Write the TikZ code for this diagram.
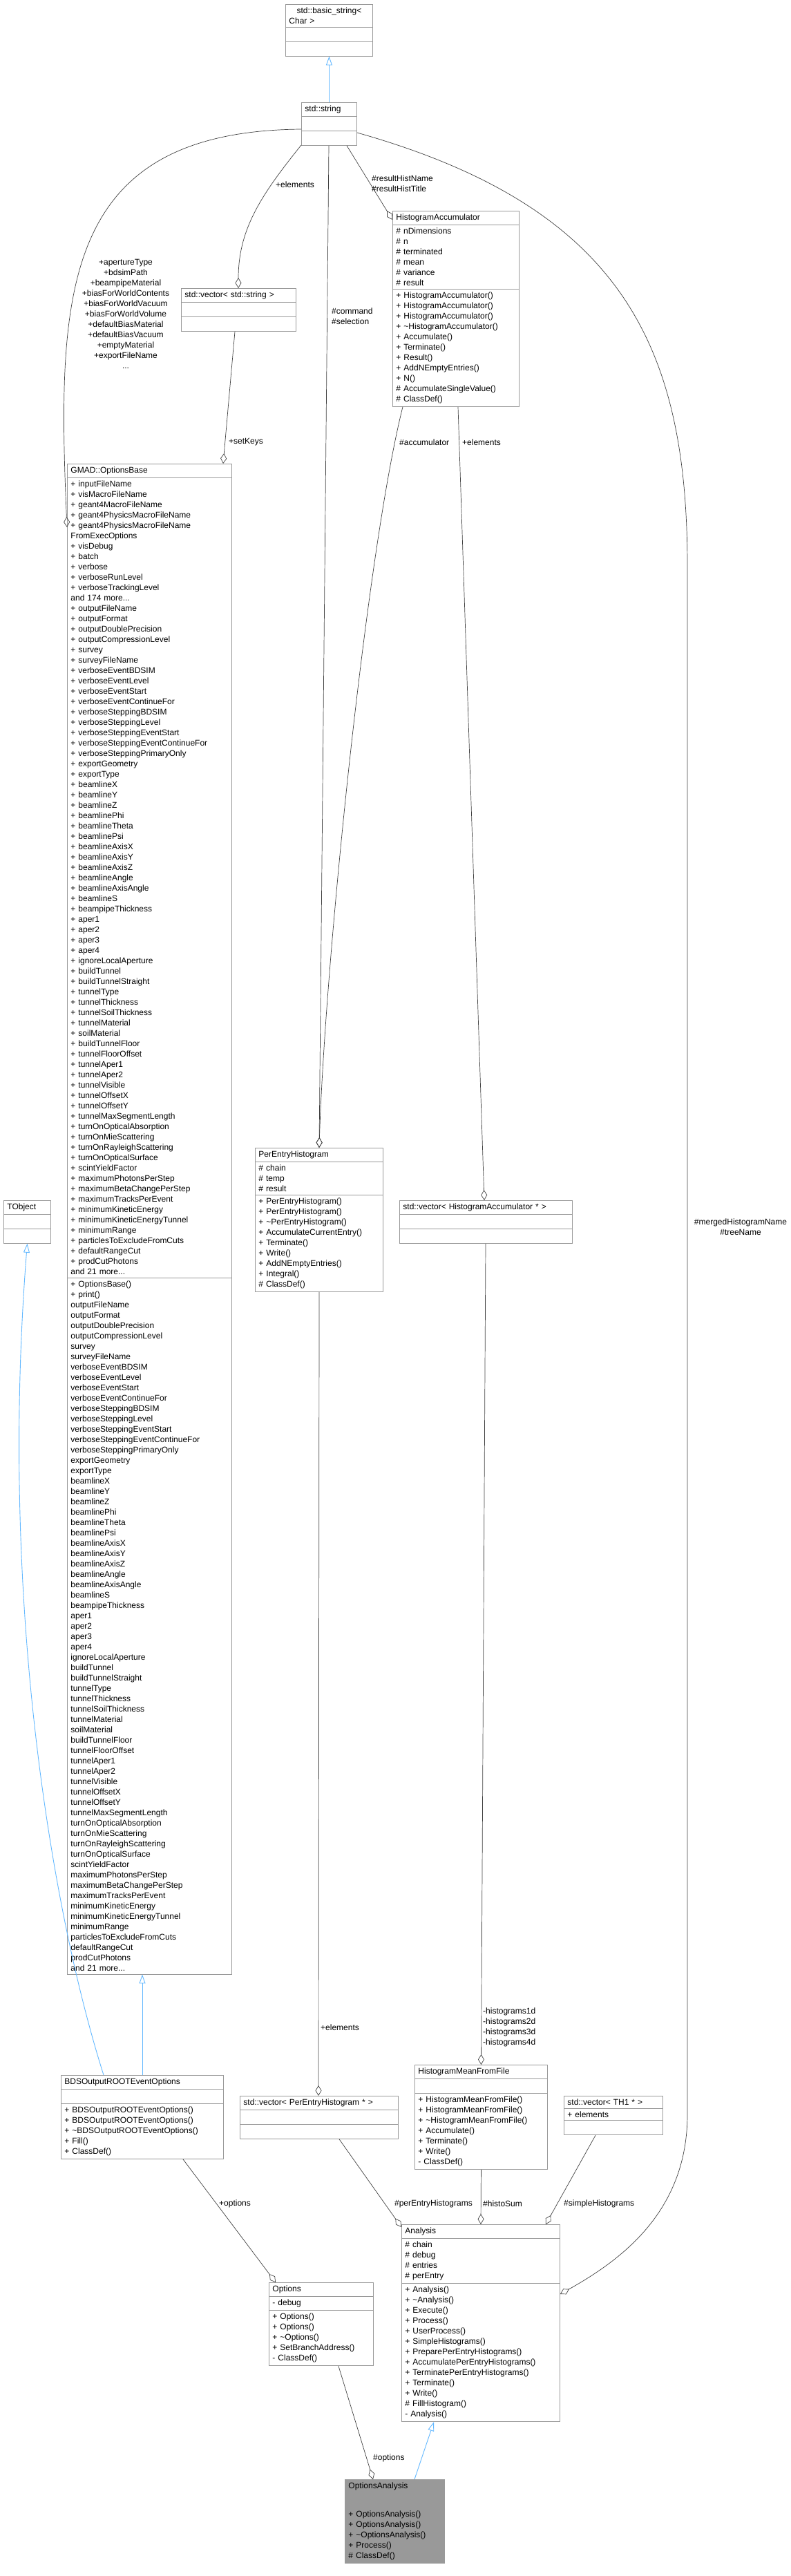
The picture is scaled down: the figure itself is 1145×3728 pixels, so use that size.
\documentclass[tikz,border=0pt]{standalone}
\usepackage{fontspec}
\setmainfont{Liberation Sans}
\usetikzlibrary{shapes.multipart,arrows.meta}
\definecolor{boxline}{HTML}{999999}
\definecolor{conn}{HTML}{404040}
\definecolor{inhblue}{HTML}{63B8FF}
\definecolor{selfill}{HTML}{999999}
\newcommand\tl{\textasciitilde}
\newcommand\emptypart{\rule{0pt}{12pt}}
\begin{document}
\begin{tikzpicture}[x=1pt,y=-1pt,
  cls/.style={rectangle split, rectangle split parts=3, draw=boxline, line width=0.9pt,
    anchor=north west, inner xsep=5pt, inner ysep=4pt, align=left,
    font=\fontsize{12}{15}\selectfont, text width=#1, fill=white},
  lbl/.style={font=\fontsize{12}{15}\selectfont, inner sep=0pt, align=center},
  lbll/.style={font=\fontsize{12}{15}\selectfont, inner sep=0pt, align=left},
  agg/.style={draw=conn, line width=0.7pt, -{Diamond[open,length=15pt,width=9pt]}},
  inh/.style={draw=inhblue, line width=0.9pt, -{Triangle[open,length=13pt,width=9pt]}}]
\useasboundingbox (0,0) rectangle (1145,3728);

\node[cls=116pt] (bstr) at (413,6) {\centering std::basic\_string\textless\\ Char \textgreater\nodepart{two}\emptypart\nodepart{three}\emptypart};
\node[cls=70pt] (str) at (436,148) {\centering std::string\nodepart{two}\emptypart\nodepart{three}\emptypart};
\node[cls=156pt] (vstr) at (262,417) {\centering std::vector\textless{} std::string \textgreater\nodepart{two}\emptypart\nodepart{three}\emptypart};
\node[cls=173pt] (hacc) at (568,305) {\centering HistogramAccumulator\nodepart{two}
\# nDimensions\\\# n\\\# terminated\\\# mean\\\# variance\\\# result\nodepart{three}
+ HistogramAccumulator()\\+ HistogramAccumulator()\\+ HistogramAccumulator()\\+ \tl HistogramAccumulator()\\+ Accumulate()\\+ Terminate()\\+ Result()\\+ AddNEmptyEntries()\\+ N()\\\# AccumulateSingleValue()\\\# ClassDef()};

\node[cls=228pt] (gmad) at (97,671) {\centering GMAD::OptionsBase\nodepart{two}
+ inputFileName\\+ visMacroFileName\\+ geant4MacroFileName\\+ geant4PhysicsMacroFileName\\+ geant4PhysicsMacroFileName\\FromExecOptions\\+ visDebug\\+ batch\\+ verbose\\+ verboseRunLevel\\+ verboseTrackingLevel\\and 174 more...\\+ outputFileName\\+ outputFormat\\+ outputDoublePrecision\\+ outputCompressionLevel\\+ survey\\+ surveyFileName\\+ verboseEventBDSIM\\+ verboseEventLevel\\+ verboseEventStart\\+ verboseEventContinueFor\\+ verboseSteppingBDSIM\\+ verboseSteppingLevel\\+ verboseSteppingEventStart\\+ verboseSteppingEventContinueFor\\+ verboseSteppingPrimaryOnly\\+ exportGeometry\\+ exportType\\+ beamlineX\\+ beamlineY\\+ beamlineZ\\+ beamlinePhi\\+ beamlineTheta\\+ beamlinePsi\\+ beamlineAxisX\\+ beamlineAxisY\\+ beamlineAxisZ\\+ beamlineAngle\\+ beamlineAxisAngle\\+ beamlineS\\+ beampipeThickness\\+ aper1\\+ aper2\\+ aper3\\+ aper4\\+ ignoreLocalAperture\\+ buildTunnel\\+ buildTunnelStraight\\+ tunnelType\\+ tunnelThickness\\+ tunnelSoilThickness\\+ tunnelMaterial\\+ soilMaterial\\+ buildTunnelFloor\\+ tunnelFloorOffset\\+ tunnelAper1\\+ tunnelAper2\\+ tunnelVisible\\+ tunnelOffsetX\\+ tunnelOffsetY\\+ tunnelMaxSegmentLength\\+ turnOnOpticalAbsorption\\+ turnOnMieScattering\\+ turnOnRayleighScattering\\+ turnOnOpticalSurface\\+ scintYieldFactor\\+ maximumPhotonsPerStep\\+ maximumBetaChangePerStep\\+ maximumTracksPerEvent\\+ minimumKineticEnergy\\+ minimumKineticEnergyTunnel\\+ minimumRange\\+ particlesToExcludeFromCuts\\+ defaultRangeCut\\+ prodCutPhotons\\and 21 more...\nodepart{three}
+ OptionsBase()\\+ print()\\* outputFileName\\* outputFormat\\* outputDoublePrecision\\* outputCompressionLevel\\* survey\\* surveyFileName\\* verboseEventBDSIM\\* verboseEventLevel\\* verboseEventStart\\* verboseEventContinueFor\\* verboseSteppingBDSIM\\* verboseSteppingLevel\\* verboseSteppingEventStart\\* verboseSteppingEventContinueFor\\* verboseSteppingPrimaryOnly\\* exportGeometry\\* exportType\\* beamlineX\\* beamlineY\\* beamlineZ\\* beamlinePhi\\* beamlineTheta\\* beamlinePsi\\* beamlineAxisX\\* beamlineAxisY\\* beamlineAxisZ\\* beamlineAngle\\* beamlineAxisAngle\\* beamlineS\\* beampipeThickness\\* aper1\\* aper2\\* aper3\\* aper4\\* ignoreLocalAperture\\* buildTunnel\\* buildTunnelStraight\\* tunnelType\\* tunnelThickness\\* tunnelSoilThickness\\* tunnelMaterial\\* soilMaterial\\* buildTunnelFloor\\* tunnelFloorOffset\\* tunnelAper1\\* tunnelAper2\\* tunnelVisible\\* tunnelOffsetX\\* tunnelOffsetY\\* tunnelMaxSegmentLength\\* turnOnOpticalAbsorption\\* turnOnMieScattering\\* turnOnRayleighScattering\\* turnOnOpticalSurface\\* scintYieldFactor\\* maximumPhotonsPerStep\\* maximumBetaChangePerStep\\* maximumTracksPerEvent\\* minimumKineticEnergy\\* minimumKineticEnergyTunnel\\* minimumRange\\* particlesToExcludeFromCuts\\* defaultRangeCut\\* prodCutPhotons\\and 21 more...};

\node[cls=58pt] (tobj) at (5,1737) {\centering TObject\nodepart{two}\emptypart\nodepart{three}\emptypart};
\node[cls=175pt] (peh) at (369,1661) {\centering PerEntryHistogram\nodepart{two}
\# chain\\\# temp\\\# result\nodepart{three}
+ PerEntryHistogram()\\+ PerEntryHistogram()\\+ \tl PerEntryHistogram()\\+ AccumulateCurrentEntry()\\+ Terminate()\\+ Write()\\+ AddNEmptyEntries()\\+ Integral()\\\# ClassDef()};
\node[cls=240pt] (vha) at (578,1737) {\centering std::vector\textless{} HistogramAccumulator * \textgreater\nodepart{two}\emptypart\nodepart{three}\emptypart};

\node[cls=225pt] (bds) at (88,3003) {\centering BDSOutputROOTEventOptions\nodepart{two}\emptypart\nodepart{three}
+ BDSOutputROOTEventOptions()\\+ BDSOutputROOTEventOptions()\\+ \tl BDSOutputROOTEventOptions()\\+ Fill()\\+ ClassDef()};
\node[cls=219pt] (vpeh) at (347,3033) {\centering std::vector\textless{} PerEntryHistogram * \textgreater\nodepart{two}\emptypart\nodepart{three}\emptypart};
\node[cls=182pt] (hmff) at (600,2988) {\centering HistogramMeanFromFile\nodepart{two}\emptypart\nodepart{three}
+ HistogramMeanFromFile()\\+ HistogramMeanFromFile()\\+ \tl HistogramMeanFromFile()\\+ Accumulate()\\+ Terminate()\\+ Write()\\- ClassDef()};
\node[cls=133pt] (vth) at (816,3033) {\centering std::vector\textless{} TH1 * \textgreater\nodepart{two}+ elements\nodepart{three}\emptypart};
\node[cls=219pt] (ana) at (581,3219) {\centering Analysis\nodepart{two}
\# chain\\\# debug\\\# entries\\\# perEntry\nodepart{three}
+ Analysis()\\+ \tl Analysis()\\+ Execute()\\+ Process()\\+ UserProcess()\\+ SimpleHistograms()\\+ PreparePerEntryHistograms()\\+ AccumulatePerEntryHistograms()\\+ TerminatePerEntryHistograms()\\+ Terminate()\\+ Write()\\\# FillHistogram()\\- Analysis()};
\node[cls=141pt] (opt) at (389,3303) {\centering Options\nodepart{two}- debug\nodepart{three}
+ Options()\\+ Options()\\+ \tl Options()\\+ SetBranchAddress()\\- ClassDef()};
\node[cls=134pt, fill=selfill] (oa) at (499,3588) {\centering OptionsAnalysis\nodepart{two}\emptypart\nodepart{three}
+ OptionsAnalysis()\\+ OptionsAnalysis()\\+ \tl OptionsAnalysis()\\+ Process()\\\# ClassDef()};

% connectors
\draw[inh] (str.north) -- (bstr.south);
\coordinate (strL) at ([yshift=-39pt]str.north west);
\coordinate (strL2) at ([yshift=-62pt]str.north west);
\coordinate (strR) at ([yshift=-44pt]str.north east);
\draw[agg] (strL) .. controls (90,190) and (82,420) .. ([yshift=-92pt]gmad.north west);
\node[lbl, anchor=north] (lmany) at (182,375) {+apertureType\\+bdsimPath\\+beampipeMaterial\\+biasForWorldContents\\+biasForWorldVacuum\\+biasForWorldVolume\\+defaultBiasMaterial\\+defaultBiasVacuum\\+emptyMaterial\\+exportFileName\\...};
\draw[agg] (strL2) .. controls (380,280) and (345,330) .. ([xshift=83pt]vstr.north west);
\node[lbl] (lel1) at (427,267) {+elements};
\draw[agg] ([xshift=40pt]str.south west) -- ([xshift=93pt]peh.north west);
\node[lbll, anchor=west] (lcmd) at (480,458) {\#command\\\#selection};
\draw[agg] ([xshift=66pt]str.south west) -- ([yshift=-13pt]hacc.north west);
\node[lbll, anchor=west] (lres) at (538,266) {\#resultHistName\\\#resultHistTitle};
\draw[agg] (strR) .. controls (900,300) and (995,500) .. (995,820) -- (995,3060) .. controls (995,3200) and (900,3270) .. ([yshift=-101pt]ana.north east);
\node[lbl] (lmerge) at (1072,1776) {\#mergedHistogramName\\\#treeName};
\draw[agg] ([xshift=78pt]vstr.south west) -- ([xshift=226pt]gmad.north west);
\node[lbll, anchor=west] (lset) at (331,640) {+setKeys};
\draw[agg] ([xshift=15pt]hacc.south west) .. controls (530,800) and (470,1400) .. ([xshift=93pt]peh.north west);
\node[lbll, anchor=west] (lacc) at (578,640) {\#accumulator};
\draw[agg] ([xshift=95pt]hacc.south west) -- ([xshift=123pt]vha.north west);
\node[lbll, anchor=west] (lel2) at (669,640) {+elements};
\draw[agg] ([xshift=125pt]vha.south west) -- (hmff.north);
\node[lbll, anchor=west] (lhist) at (699,2934) {-histograms1d\\-histograms2d\\-histograms3d\\-histograms4d};
\draw[agg] ([xshift=93pt]peh.south west) -- ([xshift=114pt]vpeh.north west);
\node[lbll, anchor=west] (lel3) at (464,2934) {+elements};
\draw[agg] ([xshift=144pt]vpeh.south west) -- ([yshift=-4pt]ana.north west);
\node[lbll, anchor=east] (lpeh) at (684,3189) {\#perEntryHistograms};
\draw[agg] (hmff.south) -- ([xshift=115pt]ana.north west);
\node[lbll, anchor=west] (lsum) at (699,3189) {\#histoSum};
\draw[agg] ([xshift=46pt]vth.south west) -- ([xshift=209pt]ana.north west);
\node[lbll, anchor=west] (lsim) at (816,3189) {\#simpleHistograms};
\draw[inh] ([xshift=62pt]bds.north west) .. controls (70,2750) and (0,2300) .. (tobj.south);
\draw[inh] ([xshift=118pt]bds.north west) -- ([xshift=109pt]gmad.south west);
\draw[agg] ([xshift=177pt]bds.south west) -- ([xshift=10pt]opt.north west);
\node[lbll, anchor=west] (lopt) at (317,3189) {+options};
\draw[agg] ([xshift=101pt]opt.south west) -- ([xshift=41pt]oa.north west);
\node[lbll, anchor=west] (lopt2) at (540,3557) {\#options};
\draw[inh] ([xshift=101pt]oa.north west) -- ([xshift=47pt]ana.south west);
\end{tikzpicture}
\end{document}
